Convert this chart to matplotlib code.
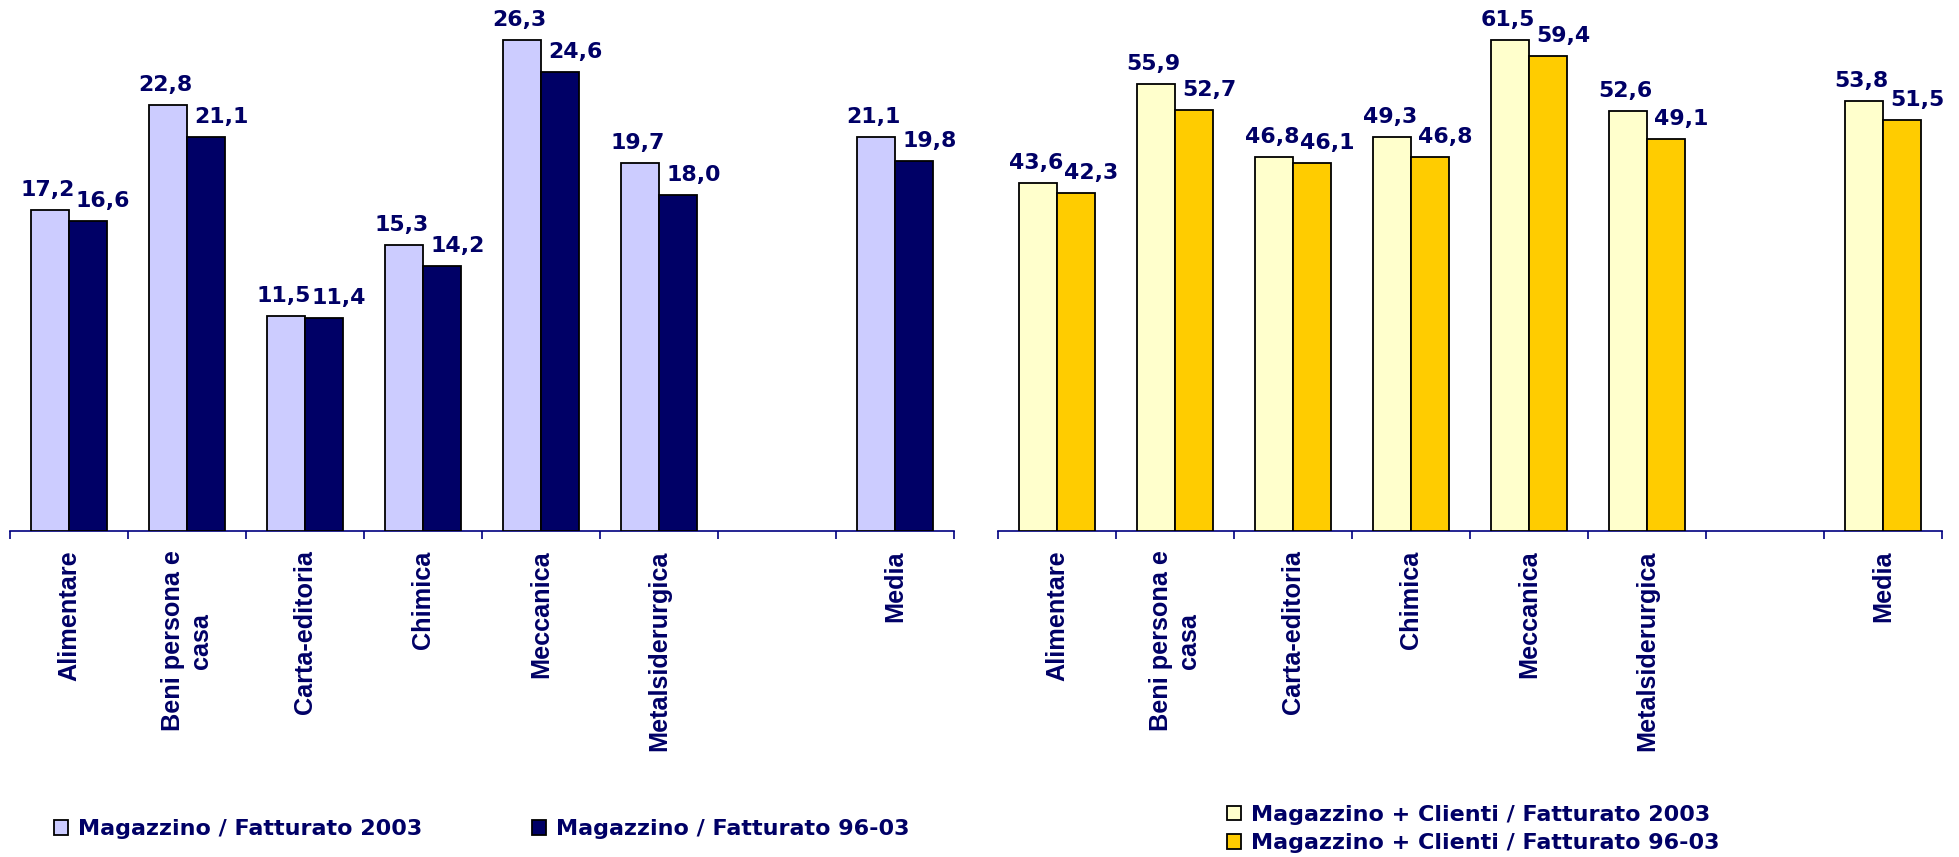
import numpy as np
import matplotlib
matplotlib.use("Agg")
import matplotlib.pyplot as plt
from matplotlib.patches import Patch

categories = ["Alimentare", "Beni persona e\ncasa", "Carta-editoria", "Chimica",
              "Meccanica", "Metalsiderurgica", "", "Media"]
mag_2003 = [17.2, 22.8, 11.5, 15.3, 26.3, 19.7, None, 21.1]
mag_9603 = [16.6, 21.1, 11.4, 14.2, 24.6, 18.0, None, 19.8]
magcli_2003 = [43.6, 55.9, 46.8, 49.3, 61.5, 52.6, None, 53.8]
magcli_9603 = [42.3, 52.7, 46.1, 46.8, 59.4, 49.1, None, 51.5]

labels_left = ["Magazzino / Fatturato 2003", "Magazzino / Fatturato 96-03"]
labels_right = ["Magazzino + Clienti / Fatturato 2003", "Magazzino + Clienti / Fatturato 96-03"]

NAVY = "#000066"
AXC = "#000080"
W, H = 1959, 857
fig = plt.figure(figsize=(W / 100, H / 100), dpi=100)

bw = 0.326


def fmt(v):
    return f"{v:.1f}".replace(".", ",")


def draw(ax, s1, s2, c1, c2, ytop):
    n = len(categories)
    x = np.arange(n)
    for series, col, off, dx in ((s1, c1, -bw / 2, -2), (s2, c2, bw / 2, 15)):
        idx = [i for i, v in enumerate(series) if v is not None]
        vals = [series[i] for i in idx]
        ax.bar(x[idx] + off, vals, width=bw, color=col, edgecolor="black",
               linewidth=1.3, zorder=3)
        for i, v in zip(idx, vals):
            ax.annotate(fmt(v), xy=(x[i] + off, v), xytext=(dx, 14),
                        textcoords="offset pixels", ha="center", va="baseline",
                        fontsize=15.8, fontweight="bold", color=NAVY,
                        family="DejaVu Sans", zorder=4)
    ax.set_xlim(-0.5, n - 0.5)
    ax.set_ylim(0, ytop)
    for s in ("top", "right", "left"):
        ax.spines[s].set_visible(False)
    ax.spines["bottom"].set_color(AXC)
    ax.spines["bottom"].set_linewidth(1.2)
    ax.set_yticks([])
    ax.set_xticks(np.arange(n + 1) - 0.5)
    ax.set_xticklabels([])
    ax.tick_params(axis="x", which="major", length=6, width=1.2, color=AXC,
                   direction="out")
    ax.set_xticks(x, minor=True)
    ax.set_xticklabels(categories, minor=True, rotation=90, ha="center", va="top",
                       fontsize=18.2, fontweight="bold", color=NAVY,
                       family="Liberation Sans", multialignment="center")
    ax.tick_params(axis="x", which="minor", length=0, pad=14)
    ax.patch.set_alpha(0)


bottom = (H - 531) / H
axw = 944 / W
ax1 = fig.add_axes([10 / W, bottom, axw, 1 - bottom])
ax2 = fig.add_axes([998 / W, bottom, axw, 1 - bottom])
draw(ax1, mag_2003, mag_9603, "#CCCCFF", "#000066", 531 / 18.67)
draw(ax2, magcli_2003, magcli_9603, "#FFFFCC", "#FFCC00", 531 / 7.99)

leg_font = dict(family="DejaVu Sans", weight="bold", size=16)
h1 = [Patch(facecolor="#CCCCFF", edgecolor="black", linewidth=1.3),
      Patch(facecolor="#000066", edgecolor="black", linewidth=1.3)]
l1 = fig.legend(h1, labels_left, loc="center left", bbox_to_anchor=(54 / W, (H - 829) / H),
                ncol=2, frameon=False, prop=leg_font, borderpad=0, borderaxespad=0,
                handlelength=0.65, handleheight=0.65, handletextpad=0.42,
                columnspacing=4.95)
for t in l1.get_texts():
    t.set_color(NAVY)

h2 = [Patch(facecolor="#FFFFCC", edgecolor="black", linewidth=1.3),
      Patch(facecolor="#FFCC00", edgecolor="black", linewidth=1.3)]
l2 = fig.legend(h2, labels_right, loc="center left", bbox_to_anchor=(1227 / W, (H - 829) / H),
                ncol=1, frameon=False, prop=leg_font, borderpad=0, borderaxespad=0,
                handlelength=0.65, handleheight=0.65, handletextpad=0.42,
                labelspacing=0.38)
for t in l2.get_texts():
    t.set_color(NAVY)

fig.savefig("out.png", dpi=100, facecolor="white")
